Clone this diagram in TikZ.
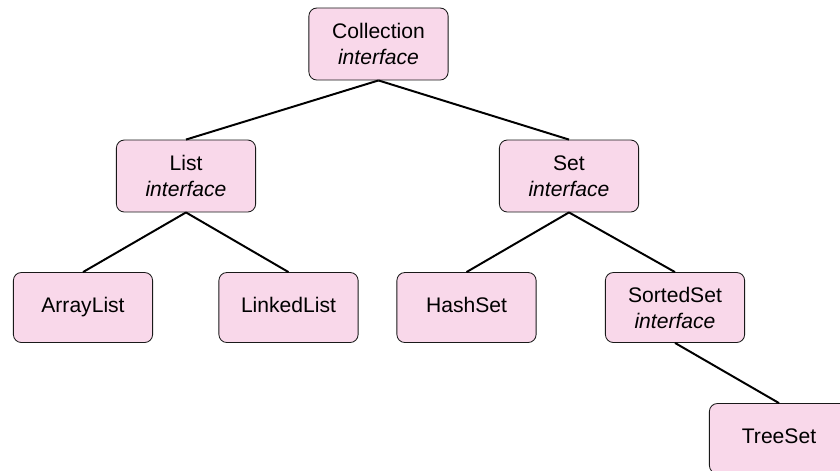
\documentclass[tikz,border=0pt]{standalone}
\usepackage{fontspec}
\setmainfont{Liberation Sans}
\usetikzlibrary{positioning}
\definecolor{SoftPink}{RGB}{249,216,234}
\definecolor{EdgeGray}{RGB}{25,25,25}
\tikzset{
  klass/.style={draw=EdgeGray,fill=SoftPink,rounded corners=0.2cm,line width=0.6pt,
    minimum width=3.48cm,minimum height=1.75cm,align=center,inner sep=0pt,
    font=\fontsize{15}{18.5}\selectfont},
  oneline/.style={klass,text height=11pt,text depth=3.5pt},
  link/.style={line width=1.4pt,black}
}

\begin{document}
\begin{tikzpicture}[x=0.025cm,y=-0.025cm]
  \path[use as bounding box,clip] (0,0) rectangle (840,470);
  \node[klass,minimum height=1.8cm] (coll) at (378.5,44) {Collection\\\textit{interface}};
  \node[klass,minimum height=1.8cm] (list) at (186,176) {List\\\textit{interface}};
  \node[klass,minimum height=1.8cm] (set) at (569,176) {Set\\\textit{interface}};
  \node[oneline] (arr) at (83,307.5) {ArrayList};
  \node[oneline] (linked) at (288.5,307.5) {LinkedList};
  \node[oneline] (hash) at (466.5,307.5) {HashSet};
  \node[klass] (sorted) at (675,307.5) {SortedSet\\\textit{interface}};
  \node[oneline] (tree) at (779,438.5) {TreeSet};
  \draw[link] (coll.south) -- (list.north);
  \draw[link] (coll.south) -- (set.north);
  \draw[link] (list.south) -- (arr.north);
  \draw[link] (list.south) -- (linked.north);
  \draw[link] (set.south) -- (hash.north);
  \draw[link] (set.south) -- (sorted.north);
  \draw[link] (sorted.south) -- (tree.north);
\end{tikzpicture}
\end{document}
